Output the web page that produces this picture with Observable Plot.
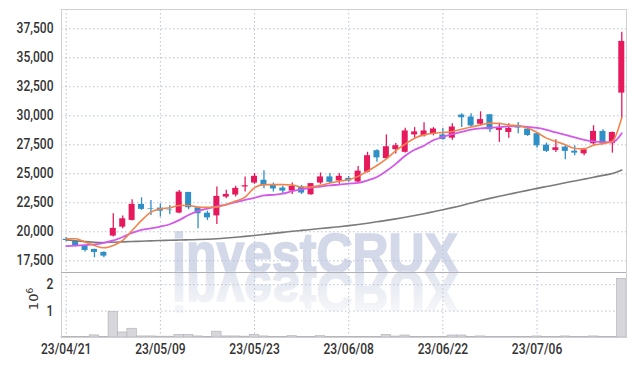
<!DOCTYPE html>
<html><head><meta charset="utf-8">
<script src="https://cdn.jsdelivr.net/npm/d3@7"></script>
<script src="https://cdn.jsdelivr.net/npm/@observablehq/plot@0.6"></script>
<style>
body{margin:0;background:#fff;}
#wrap{position:relative;width:634px;height:366px;overflow:hidden;}
#wrap > svg{position:absolute;left:0;}
</style></head><body><div id="wrap"></div>
<script>
const dates = ["23/04/21","23/04/24","23/04/25","23/04/26","23/04/27","23/04/28",
"23/05/02","23/05/03","23/05/04","23/05/08","23/05/09","23/05/10","23/05/11","23/05/12","23/05/15","23/05/16","23/05/17","23/05/18","23/05/19","23/05/22","23/05/23","23/05/24","23/05/25","23/05/26","23/05/30","23/05/31",
"23/06/01","23/06/02","23/06/05","23/06/07","23/06/08","23/06/09","23/06/12","23/06/13","23/06/14","23/06/15","23/06/16","23/06/19","23/06/20","23/06/21","23/06/22","23/06/23","23/06/26","23/06/27","23/06/28","23/06/29","23/06/30",
"23/07/03","23/07/04","23/07/05","23/07/06","23/07/07","23/07/10","23/07/11","23/07/12","23/07/13","23/07/14","23/07/17","23/07/18","23/07/19"];
const open  = [19350,19200,18820,18480,18220,19630,20400,20980,22360,22000,22040,21870,21610,23390,22070,21600,21370,22990,23170,23860,24200,24440,24000,23770,23510,23860,23190,24200,24730,24380,24600,24290,25140,26990,26310,27080,26850,28350,28270,28410,28350,28070,30060,29890,29270,30090,28740,28560,29170,28850,28450,27470,27010,27300,26950,26720,27590,28650,27590,31950];
const high  = [19500,19250,18850,18500,18280,21550,21350,22760,22930,22700,22410,22270,23560,23400,22100,21780,23860,23570,23920,24730,25020,25250,24200,23920,24200,24000,24150,25070,25020,25020,24770,25630,26850,27080,28350,27620,28920,28980,29400,28980,28920,29320,30170,30170,30340,30090,29370,29310,29430,29020,28560,27640,27930,27410,27410,27210,29140,28790,28600,37190];
const low   = [19150,18700,18250,17760,17760,19540,20260,20920,21840,21410,21270,21470,21550,21900,20260,20970,20620,22850,22990,23430,24090,23710,23430,23220,23220,23220,23140,24090,24150,24090,24260,24210,25060,26000,26220,26710,26790,28070,28180,28270,27900,27900,28980,28980,29120,28560,27700,28070,28450,28220,27210,26840,26840,26210,26550,26550,27470,27500,26780,29800];
const close = [19250,18800,18390,18220,17900,20290,21120,22360,21930,21950,21780,21830,23420,22070,21550,21200,23050,23220,23740,23970,24780,23970,23690,23510,23920,23340,24150,24730,24260,24780,24380,25230,26560,26370,27330,27420,28690,28610,28690,28860,27960,29030,29830,29120,29670,28790,28990,28910,28940,28300,27410,26930,27240,26930,26780,27070,28650,27590,28560,36410];
const volume = [20000,15000,20000,80000,15000,960000,190000,330000,40000,40000,30000,30000,100000,100000,40000,15000,220000,40000,40000,30000,100000,40000,15000,15000,50000,25000,15000,50000,25000,15000,20000,25000,20000,20000,100000,35000,75000,20000,20000,20000,20000,75000,75000,25000,40000,20000,15000,20000,20000,20000,40000,20000,20000,40000,15000,15000,40000,20000,15000,2220000];
const ma5   = [19398,19398,19110,18823,18622,18823,19254,20116,20978,21696,21983,22070,22271,22271,22127,22100,22125,22356,22645,22992,23801,24061,24061,24061,24032,23859,23859,24003,24205,24350,24490,24774,25229,25712,26280,26990,27558,28069,28353,28495,28552,28637,28836,29034,29205,29368,29339,29195,29138,28937,28563,28074,27787,27500,27184,27150,27471,27600,27800,29850];
const ma20  = [18770,18800,18850,18910,19050,19250,19550,19900,20170,20300,20450,20650,21000,21450,21780,22000,22200,22350,22550,22750,22930,23130,23190,23280,23500,23650,23800,23900,24000,24060,24150,24210,24430,24720,25230,25850,26560,27070,27420,27900,28180,28410,28610,28810,28920,28960,29020,29080,29100,29050,28950,28790,28560,28360,28130,27930,27790,27720,27720,28500];
const ma120 = [19300,19230,19150,19100,19080,19100,19130,19160,19190,19220,19250,19270,19290,19310,19330,19360,19400,19460,19530,19600,19680,19770,19860,19950,20040,20120,20200,20280,20360,20440,20530,20630,20740,20860,20980,21110,21250,21400,21560,21730,21900,22080,22270,22480,22690,22880,23060,23230,23400,23570,23740,23900,24060,24220,24380,24540,24700,24860,25020,25320];
const xTicks = ["23/04/21","23/05/09","23/05/23","23/06/08","23/06/22","23/07/06"];
const yTicks = [17500,20000,22500,25000,27500,30000,32500,35000,37500];
const volTicks = [1000000,2000000];

const UP = "#e6195d", DOWN = "#2f8fc7";
const rows = dates.map((d,i)=>({date:d,open:open[i],high:high[i],low:low[i],close:close[i],volume:volume[i],ma5:ma5[i],ma20:ma20[i],ma120:ma120[i]}));
const col = d => d.close >= d.open ? UP : DOWN;
const font = 'Roboto, "DejaVu Sans", sans-serif';
const grid = {stroke:"#b9c0d8", strokeOpacity:1, strokeDasharray:"1.5,2.5", strokeWidth:1};

const wrap = document.getElementById("wrap");
const NS = "http://www.w3.org/2000/svg";
// watermark behind the chart
const wm = document.createElementNS(NS,"svg");
wm.setAttribute("width",634); wm.setAttribute("height",366);
wm.style.top = "0px";
const wmAttrs = `x="172" y="272" font-family="Liberation Sans, Arial, sans-serif" font-weight="bold" font-size="55" textLength="286" lengthAdjust="spacingAndGlyphs" stroke-width="1.6"`;
wm.innerHTML = `<defs><linearGradient id="fade" gradientUnits="userSpaceOnUse" x1="0" y1="272" x2="0" y2="234"><stop offset="0" stop-color="#e1e5ee"/><stop offset="1" stop-color="#f5f6f9"/></linearGradient></defs>
<text ${wmAttrs} fill="#d3d9e8" stroke="#d3d9e8">investCRUX</text>
<text ${wmAttrs} transform="translate(0,544) scale(1,-1)" fill="url(#fade)" stroke="url(#fade)">investCRUX</text>`;
wrap.appendChild(wm);

const common = {width:634, marginLeft:61, marginRight:8,
  style:{background:"transparent", fontFamily:font, fontSize:"14px", fontWeight:500, color:"#333"}};

const price = Plot.plot({
  ...common, height:272, marginTop:9, marginBottom:0,
  x:{type:"band", domain:dates, padding:0, round:false, axis:null},
  y:{domain:[16490,39160], axis:null},
  marks:[
    Plot.gridX(xTicks, grid),
    Plot.gridY(yTicks, grid),
    Plot.axisY(yTicks, {tickSize:0, tickPadding:8, tickFormat:d3.format(","), fill:"#333", label:null}),
    Plot.ruleX(rows, {x:"date", y1:"low", y2:"high", stroke:col, strokeWidth:1.3}),
    Plot.barY(rows, {x:"date", y1:"open", y2:"close", fill:col, insetLeft:1.7, insetRight:1.7}),
    Plot.lineY(rows, {x:"date", y:"ma120", stroke:"#7b7b7b", strokeWidth:1.6, curve:"monotone-x"}),
    Plot.lineY(rows, {x:"date", y:"ma20", stroke:"#d35ae8", strokeWidth:1.8, curve:"monotone-x"}),
    Plot.lineY(rows, {x:"date", y:"ma5", stroke:"#f0844c", strokeWidth:1.6, curve:"monotone-x"}),
    Plot.frame({stroke:"#cfcfd4"})
  ]
});
price.style.top = "0px";
wrap.appendChild(price);

const vol = Plot.plot({
  ...common, height:94, marginTop:0, marginBottom:29,
  x:{type:"band", domain:dates, padding:0, round:false, axis:null},
  y:{domain:[0,2460000], axis:null},
  marks:[
    Plot.gridX(xTicks, grid),
    Plot.gridY(volTicks, grid),
    Plot.barY(rows, {x:"date", y:"volume", fill:"#d7d7db", stroke:"#b5b5ba", strokeWidth:0.7}),
    Plot.axisX(xTicks, {tickSize:0, tickPadding:7, fill:"#333", label:null}),
    Plot.axisY(volTicks, {tickSize:0, tickPadding:8, tickFormat:d=>d/1e6, fill:"#333", label:null}),
    Plot.frame({stroke:"#cfcfd4"}),
    Plot.ruleY([2460000], {stroke:"#b0b0b6"})
  ]
});
vol.style.top = "272px";
wrap.appendChild(vol);

// condense the tick labels (reference uses a narrow face)
for (const svg of [price, vol]) {
  svg.querySelectorAll("g[aria-label^='y-axis tick label'] text, g[aria-label^='x-axis tick label'] text").forEach(t => {
    const w = t.getComputedTextLength();
    t.setAttribute("textLength", (w * 0.86).toFixed(1));
    t.setAttribute("lengthAdjust", "spacingAndGlyphs");
  });
}

// rotated exponent label of the volume axis
const lab = document.createElementNS(NS,"svg");
lab.setAttribute("width",634); lab.setAttribute("height",366);
lab.style.top="0px";
lab.innerHTML = `<text transform="translate(38,299) rotate(-90)" text-anchor="middle" font-family="DejaVu Sans, sans-serif" font-size="13" fill="#333">10<tspan dy="-5" font-size="9">6</tspan></text>`;
wrap.appendChild(lab);
</script></body></html>
